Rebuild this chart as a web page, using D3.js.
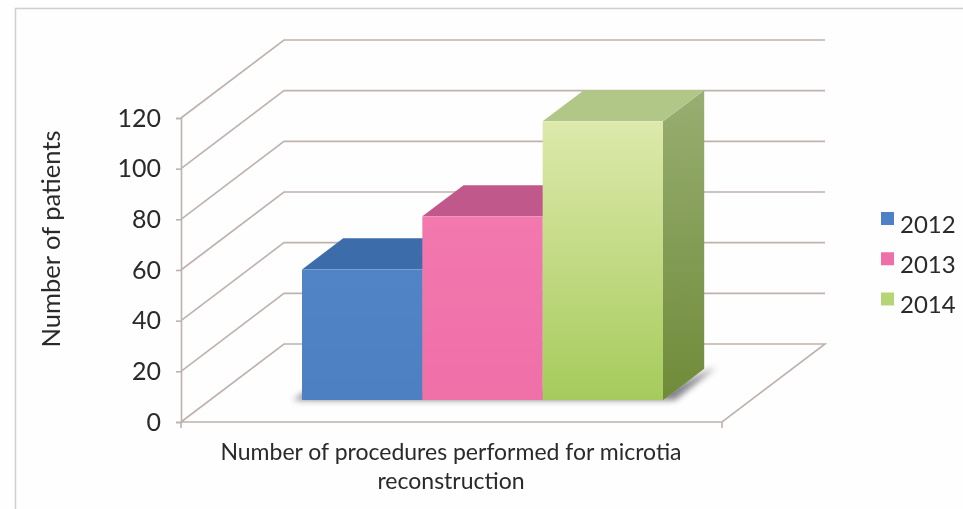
<!DOCTYPE html>
<html>
<head>
<meta charset="utf-8">
<script src="https://cdnjs.cloudflare.com/ajax/libs/d3/7.8.5/d3.min.js"></script>
<style>
html,body{margin:0;padding:0;background:#fefefe;overflow:hidden}
svg{display:block}
text{font-family:Lato,"Open Sans",sans-serif;fill:#2a2a2a}
</style>
</head>
<body>
<svg id="chart" width="963" height="509"></svg>
<script>
const seriesNames = ["2012", "2013", "2014"];
const seriesValues = [51.5, 72.5, 110];
const yTicks = [0, 20, 40, 60, 80, 100, 120];
const yTitle = "Number of patients";
const xTitleLines = ["Number of procedures performed for microtia", "reconstruction"];
const frontColors = [["#5084c6", "#4d80c2"], ["#f278ae", "#f06fa8"], ["#dde9ab", "#a6cb5c"]];
const topColors = ["#3c6cab", "#c0598c", "#b0c788"];
const sideColors = [["#3c6cab", "#34608f"], ["#c0598c", "#a84c78"], ["#98ae72", "#6f8b39"]];

const svg = d3.select("#chart");
const y = d3.scaleLinear().domain([0, 120]).range([422, 118]);
const x = d3.scaleBand().domain(seriesNames).range([302, 663]).paddingInner(0);
const depthX = d3.scaleLinear().domain([0, 1]).range([0, 103]);
const depthY = d3.scaleLinear().domain([0, 1]).range([0, -78]);
const plotLeft = 181, plotRight = 722;
const barDepth = 0.4;
const baseY = 400;
const unit = y(0) - y(1);

const defs = svg.append("defs");
const vGrad = (id, c) => {
  const g = defs.append("linearGradient").attr("id", id).attr("x1", 0).attr("x2", 0).attr("y1", 0).attr("y2", 1);
  g.append("stop").attr("offset", "0%").attr("stop-color", c[0]);
  g.append("stop").attr("offset", "100%").attr("stop-color", c[1]);
};
seriesNames.forEach((s, i) => { vGrad("front" + i, frontColors[i]); vGrad("side" + i, sideColors[i]); });
defs.append("filter").attr("id", "blur").attr("x", "-30%").attr("y", "-30%").attr("width", "160%").attr("height", "160%")
  .append("feGaussianBlur").attr("stdDeviation", 3);
defs.append("filter").attr("id", "soft").attr("x", "-5%").attr("y", "-5%").attr("width", "110%").attr("height", "110%")
  .append("feGaussianBlur").attr("stdDeviation", 0.45);

// page frame
svg.append("path").attr("d", "M15.5,509V8.5H963").attr("fill", "none").attr("stroke", "#cfcfd2").attr("stroke-width", 1.5);

const root = svg.append("g").attr("filter", "url(#soft)");
const gridColor = "#bfb2ad";

// back wall + side wall gridlines
const grid = root.append("g").attr("fill", "none").attr("stroke", gridColor).attr("stroke-width", 1.6);
yTicks.forEach(t => {
  const p = d3.path();
  const yy = y(t);
  if (t === 0) {
    p.moveTo(plotLeft, yy);
    p.lineTo(plotRight, yy);
    p.lineTo(plotRight + depthX(1), yy + depthY(1));
    p.lineTo(plotLeft + depthX(1), yy + depthY(1));
    p.lineTo(plotLeft, yy);
  } else {
    p.moveTo(plotLeft, yy);
    p.lineTo(plotLeft + depthX(1), yy + depthY(1));
    p.lineTo(plotRight + depthX(1), yy + depthY(1));
  }
  grid.append("path").attr("d", p.toString());
});

// axis: D3 axis drawn on the left wall edge
const axis = d3.axisLeft(y).tickValues(yTicks).tickSize(5).tickPadding(15);
const axisG = root.append("g").attr("transform", `translate(${plotLeft},0)`).call(axis);
axisG.selectAll("path,line").attr("stroke", gridColor).attr("stroke-width", 1.6);
axisG.selectAll("text").attr("font-size", 25).attr("fill", "#2a2a2a").style("font-family", "Lato");
root.append("line").attr("x1", plotRight).attr("x2", plotRight).attr("y1", y(0)).attr("y2", y(0) + 6)
  .attr("stroke", gridColor).attr("stroke-width", 1.6);
root.append("line").attr("x1", plotLeft).attr("x2", plotLeft).attr("y1", y(0)).attr("y2", y(0) + 6)
  .attr("stroke", gridColor).attr("stroke-width", 1.6);

// floor shadow
const lastX = x(seriesNames[2]) + x.bandwidth();
const dx = depthX(barDepth), dy = depthY(barDepth);
root.append("path")
  .attr("d", `M${x(seriesNames[0]) - 9},${baseY}L${x(seriesNames[0]) + 4},${baseY - 8}L${lastX},${baseY - 8}L${lastX + dx + 12},${baseY + dy - 2}L${lastX + 12},${baseY}Z`)
  .attr("fill", "#55555e").attr("filter", "url(#blur)").attr("opacity", 0.75);

// bars
const bars = root.append("g").selectAll("g").data(seriesNames).join("g");
bars.each(function (s, i) {
  const g = d3.select(this);
  const x0 = x(s), x1 = x0 + x.bandwidth();
  const top = baseY - seriesValues[i] * unit;
  g.append("path").attr("d", `M${x1},${top}L${x1 + dx},${top + dy}V${baseY + dy}L${x1},${baseY}Z`).attr("fill", `url(#side${i})`);
  g.append("path").attr("d", `M${x0},${top}L${x0 + dx},${top + dy}H${x1 + dx}L${x1},${top}Z`).attr("fill", topColors[i]);
  g.append("rect").attr("x", x0).attr("y", top).attr("width", x.bandwidth()).attr("height", baseY - top).attr("fill", `url(#front${i})`);
});

// axis titles
root.append("text").attr("transform", "translate(60,239) rotate(-90)").attr("text-anchor", "middle")
  .attr("font-size", 25.5).text(yTitle);
root.append("text").attr("text-anchor", "middle").attr("font-size", 23)
  .selectAll("tspan").data(xTitleLines).join("tspan")
  .attr("x", 451).attr("y", (d, i) => 460 + i * 29).text(d => d);

// legend
const legendY = d3.scalePoint().domain(seriesNames).range([218.5, 299]);
const legend = root.append("g").selectAll("g").data(seriesNames).join("g")
  .attr("transform", d => `translate(881,${legendY(d)})`);
const legendColors = ["#4d80c4", "#ef70a9", "#b5d577"];
legend.append("rect").attr("y", -6.5).attr("width", 13).attr("height", 13).attr("fill", (d, i) => legendColors[i]);
legend.append("text").attr("x", 19).attr("y", 14).attr("font-size", 24).text(d => d);
</script>
</body>
</html>
